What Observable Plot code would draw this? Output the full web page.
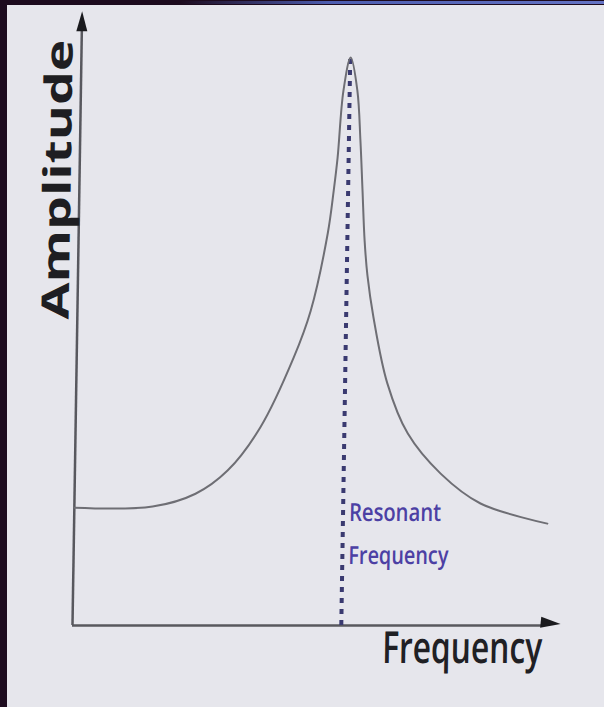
<!DOCTYPE html>
<html><head><meta charset="utf-8">
<script src="https://cdn.jsdelivr.net/npm/d3@7"></script>
<script src="https://cdn.jsdelivr.net/npm/@observablehq/plot@0.6"></script>
<style>
html,body{margin:0;padding:0;width:604px;height:707px;overflow:hidden;background:#1d0b1e;}
#edge{position:absolute;left:180px;top:1px;width:424px;height:3px;background:linear-gradient(to right, rgba(80,90,170,0), #4d5db0 35%, #6473c4);}
#panel{position:absolute;left:7px;top:5px;width:597px;height:702px;background:#e6e6ec;}
#panel svg{position:absolute;left:0;top:0;}
</style></head><body>
<div id="edge"></div>
<div id="panel"></div>
<script>
// Resonance curve (arbitrary units, 0–100 on both axes)
const frequency = [0, 16.3, 25.2, 31.8, 38.5, 45.2, 48.6, 51.9, 53.0, 53.7, 54.7, 56.1, 57.6, 58.4, 59.0, 59.6, 60.3, 61.7, 64.8, 69.2, 76.2, 84.6, 98.6];
const amplitude = [19.3, 19.5, 21.6, 25.4, 32.5, 43.9, 51.6, 64.3, 71.3, 76.7, 87.7, 93.1, 87.7, 79.5, 71.3, 63.1, 57.4, 50.5, 39.7, 31.5, 24.9, 20.0, 16.7];
const resonance = [56.0];
const resonancePeak = 93.1;
const yAxisLabel = "Amplitude";
const xAxisLabel = "Frequency";
const resonanceLabel = ["Resonant", "Frequency"];

const curve = frequency.map((f, i) => ({f, a: amplitude[i]}));

const arrowHead = {
  draw(ctx) {
    ctx.moveTo(0, -11);
    ctx.lineTo(5.5, 9);
    ctx.lineTo(-5.5, 9);
    ctx.closePath();
  }
};

const axisColor = "#58585e";

const chart = Plot.plot({
  width: 597,
  height: 702,
  marginLeft: 65,
  marginRight: 52,
  marginTop: 10,
  marginBottom: 82,
  x: {domain: [0, 100], axis: null},
  y: {domain: [0, 100], axis: null},
  style: {background: "transparent", overflow: "visible"},
  marks: [
    Plot.ruleX([0], {y1: 0, y2: 97.5, stroke: axisColor, strokeWidth: 2.5}),
    Plot.ruleY([0], {x1: 0, x2: 98, stroke: axisColor, strokeWidth: 2.5}),
    Plot.dot([[0, 98.9]], {x: d => d[0], y: d => d[1], symbol: arrowHead, fill: "#1a1a1e", stroke: "none", r: 5}),
    Plot.dot([[99.4, 0.4]], {x: d => d[0], y: d => d[1], symbol: arrowHead, fill: "#1a1a1e", stroke: "none", r: 5, rotate: 95}),
    Plot.ruleX(resonance, {y1: 0, y2: resonancePeak, stroke: "#3a3a70", strokeWidth: 4, strokeDasharray: "5 6"}),
    Plot.line(curve, {x: "f", y: "a", curve: "catmull-rom", stroke: "#6e6e74", strokeWidth: 2}),
    Plot.text([yAxisLabel], {frameAnchor: "left", dx: -21, dy: -141, rotate: -90, textAnchor: "middle", lineAnchor: "middle",
      fontFamily: "Open Sans", fontWeight: "bold", fontSize: 38, fill: "#1e1e22"}),
    Plot.text([xAxisLabel], {frameAnchor: "bottom-right", dx: -10, dy: 37, textAnchor: "end", lineAnchor: "bottom",
      fontFamily: "Open Sans", fontWeight: 600, fontSize: 44, fill: "#202024"}),
    Plot.text([resonanceLabel[0]], {x: resonance[0], y: 0, dx: 6, dy: -105, textAnchor: "start", lineAnchor: "bottom",
      fontFamily: "Open Sans", fontWeight: 600, fontSize: 25, fill: "#4c40a4"}),
    Plot.text([resonanceLabel[1]], {x: resonance[0], y: 0, dx: 6, dy: -62, textAnchor: "start", lineAnchor: "bottom",
      fontFamily: "Open Sans", fontWeight: 600, fontSize: 25, fill: "#4c40a4"})
  ]
});

d3.select(chart).selectAll("text").each(function() {
  const t = this.textContent;
  const el = d3.select(this);
  const fs = String(el.attr("font-size") || this.parentNode.getAttribute("font-size"));
  let L = null;
  if (t === "Amplitude") L = 280;
  else if (t === "Resonant") L = 92;
  else if (t === "Frequency") L = fs === "44" ? 160 : 100;
  if (L) el.attr("textLength", L).attr("lengthAdjust", "spacingAndGlyphs");
});

chart.style.transform = "skewX(-0.9deg)";
chart.style.transformOrigin = "65px 620px";
document.getElementById("panel").appendChild(chart);
</script>
</body></html>
